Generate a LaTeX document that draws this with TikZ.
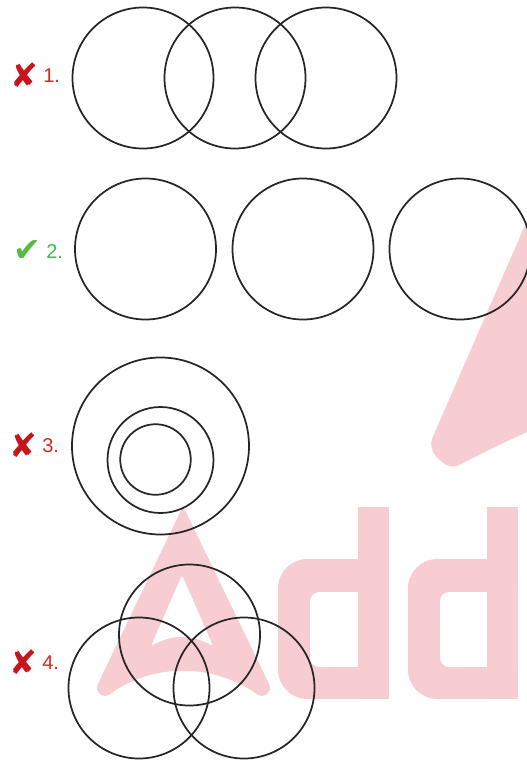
\documentclass[tikz,border=0pt]{standalone}
\usepackage{fontspec}
\setmainfont{Liberation Sans}
\newfontfamily\symfont{DejaVu Sans}
\usetikzlibrary{positioning}

\definecolor{ringgray}{HTML}{262626}
\definecolor{wrongred}{HTML}{E8231E}
\definecolor{rightgreen}{HTML}{3CBA4A}
\definecolor{crossred}{HTML}{C4161C}
\definecolor{tickgreen}{HTML}{5AB847}
\definecolor{markpink}{HTML}{F8CDD1}

\begin{document}
\begin{tikzpicture}[
    x=0.75pt, y=-0.75pt,
    node distance=3pt,
    ring/.style={circle, draw=ringgray, line width=1.3pt, inner sep=0pt, minimum size=#1},
    ring/.default=105.75pt,
    numlabel/.style={anchor=base west, inner sep=0pt, font=\fontsize{15}{17}\selectfont},
    wronglabel/.style={numlabel, text=wrongred},
    rightlabel/.style={numlabel, text=rightgreen},
    wrongicon/.style={inner sep=0pt, text=crossred, font=\symfont\fontsize{25}{25}\selectfont},
    righticon/.style={inner sep=0pt, text=tickgreen, font=\symfont\fontsize{25}{25}\selectfont},
    logofill/.style={fill=markpink}
  ]
  \useasboundingbox (0,0) rectangle (526,760);

  % faint logo behind the rings
  \fill[logofill, rounded corners=8pt] (536,200) -- (428,448) -- (450,470)
    .. controls (478,455) and (505,442) .. (536,428) -- cycle;
  \fill[logofill, rounded corners=4pt] (95,690) -- (183,506) -- (272,690) -- (262,698)
    .. controls (238,680) and (210,671) .. (183,671)
    .. controls (156,671) and (128,680) .. (105,698) -- cycle;
  \fill[white, rounded corners=2pt] (182,575) -- (151,646)
    .. controls (162,640) and (172,637) .. (182,637)
    .. controls (192,637) and (202,640) .. (213,646) -- cycle;
  \fill[logofill] (358,507) rectangle (389,699);
  \fill[logofill, rounded corners=22pt] (278,559) rectangle (389,699);
  \fill[white, rounded corners=7pt] (310,592) rectangle (340,667);
  \fill[white] (325,592) rectangle (358,667);
  \fill[logofill] (487,507) rectangle (518,699);
  \fill[logofill, rounded corners=22pt] (408,559) rectangle (518,699);
  \fill[white, rounded corners=7pt] (440,592) rectangle (470,667);
  \fill[white] (455,592) rectangle (487,667);

  % answer 1
  \node[wronglabel] (num1) at (43,82) {1.};
  \node[wrongicon, left=of num1] (icon1) {✘};
  \node[ring] (ring1a) at (143,78) {};
  \node[ring] (ring1b) at (235,78) {};
  \node[ring] (ring1c) at (326,78) {};

  % answer 2
  \node[rightlabel] (num2) at (46,258) {2.};
  \node[righticon, left=of num2] (icon2) {✔};
  \node[ring] (ring2a) at (145.5,249) {};
  \node[ring] (ring2b) at (303,249) {};
  \node[ring] (ring2c) at (460,249) {};

  % answer 3
  \node[wronglabel] (num3) at (42,452.5) {3.};
  \node[wrongicon, left=of num3] (icon3) {✘};
  \node[ring=132.75pt] (ring3a) at (160.5,446) {};
  \node[ring=79.5pt] (ring3b) at (160.5,460) {};
  \node[ring=52.9pt] (ring3c) at (155.5,459.5) {};

  % answer 4
  \node[wronglabel] (num4) at (42,669) {4.};
  \node[wrongicon, left=of num4] (icon4) {✘};
  \node[ring] (ring4a) at (189.5,635) {};
  \node[ring] (ring4b) at (139,688) {};
  \node[ring] (ring4c) at (244,688) {};
\end{tikzpicture}
\end{document}
